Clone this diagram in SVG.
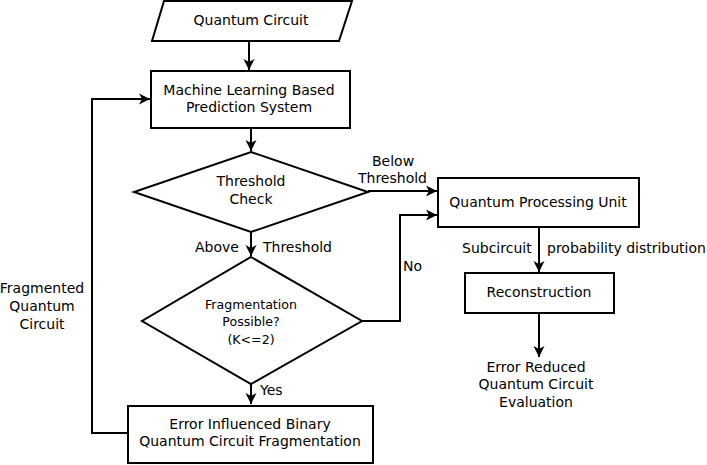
<svg xmlns="http://www.w3.org/2000/svg" width="707" height="465" viewBox="0 0 707 465">
<defs>
<marker id="ah" markerWidth="12" markerHeight="12" viewBox="0 0 12 12" refX="11" refY="6" orient="auto" markerUnits="userSpaceOnUse">
<path d="M0,0.5 L11,6 L0,11.5 L3,6 Z" fill="#000"/>
</marker>
</defs>
<style>
.s{fill:#fff;stroke:#000;stroke-width:2}
.c{fill:none;stroke:#000;stroke-width:2;marker-end:url(#ah)}
.t{font-family:"DejaVu Sans",Verdana,sans-serif;font-size:14px;fill:#000;text-anchor:middle}
.l{font-family:"DejaVu Sans",Verdana,sans-serif;font-size:14px;fill:#000}
.sm{font-size:12.6px}
</style>
<rect width="707" height="465" fill="#fff"/>
<g id="connectors">
<path class="c" d="M249,41 L249,70"/>
<path class="c" d="M251,128 L251,151"/>
<path class="c" d="M368,191 L437,191"/>
<path class="c" d="M251,232 L251,256"/>
<path class="c" d="M362,321 L400,321 L400,215 L437,215"/>
<path class="c" d="M251,384 L251,404"/>
<path class="c" d="M128,433 L92,433 L92,99 L150,99"/>
<path class="c" d="M539,227 L539,272"/>
<path class="c" d="M539,313 L539,357"/>
<text class="l" x="372" y="166">Below</text>
<text class="l" x="358" y="183">Threshold</text>
<text class="l" x="195" y="252">Above</text>
<text class="l" x="263" y="252">Threshold</text>
<text class="l" x="403" y="271">No</text>
<text class="l" x="260" y="395">Yes</text>
<text class="t" x="42" y="293">Fragmented</text>
<text class="t" x="42" y="311">Quantum</text>
<text class="t" x="42" y="329">Circuit</text>
<text class="l" x="462" y="253">Subcircuit</text>
<text class="l" x="547" y="253">probability distribution</text>
</g>
<g id="n-input">
<polygon class="s" points="164,1 352,1 339,41 152,41"/>
<text class="t" x="251" y="25">Quantum Circuit</text>
</g>
<g id="n-ml">
<rect class="s" x="151" y="71" width="199" height="57"/>
<text class="t" x="249" y="95">Machine Learning Based</text>
<text class="t" x="249" y="112">Prediction System</text>
</g>
<g id="n-threshold">
<polygon class="s" points="251,152 368,192 251,232 134,192"/>
<text class="t" x="251" y="186">Threshold</text>
<text class="t" x="251" y="204">Check</text>
</g>
<g id="n-frag">
<polygon class="s" points="251,257 362,321 251,384 142,321"/>
<text class="t sm" x="251" y="309">Fragmentation</text>
<text class="t sm" x="251" y="326">Possible?</text>
<text class="t sm" x="251" y="344">(K&lt;=2)</text>
</g>
<g id="n-eib">
<rect class="s" x="128" y="406" width="245" height="57"/>
<text class="t" x="250" y="429">Error Influenced Binary</text>
<text class="t" x="250" y="446">Quantum Circuit Fragmentation</text>
</g>
<g id="n-qpu">
<rect class="s" x="438" y="178" width="201" height="49"/>
<text class="t" x="538" y="207">Quantum Processing Unit</text>
</g>
<g id="n-recon">
<rect class="s" x="465" y="273" width="149" height="40"/>
<text class="t" x="539" y="297">Reconstruction</text>
</g>
<g id="n-result">
<text class="t" x="536" y="372">Error Reduced</text>
<text class="t" x="536" y="389">Quantum Circuit</text>
<text class="t" x="536" y="407">Evaluation</text>
</g>
</svg>
